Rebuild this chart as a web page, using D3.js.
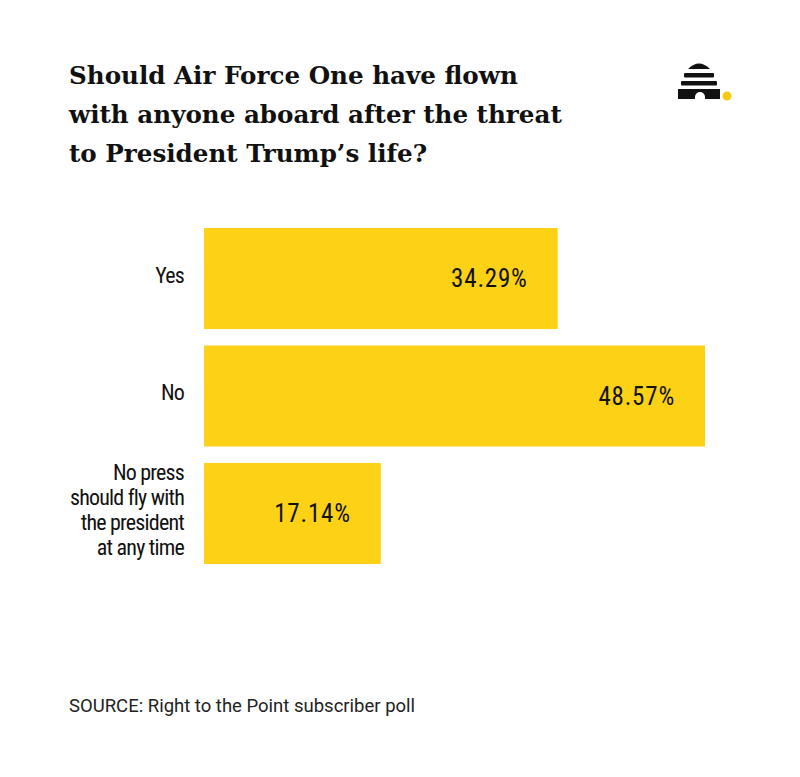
<!DOCTYPE html>
<html>
<head>
<meta charset="utf-8">
<script src="https://cdn.jsdelivr.net/npm/d3@7"></script>
<style>
    body { margin: 0; background: #fff; }
    .viewport { width: 800px; height: 777px; }
</style>
</head>
<body>
<div class="viewport"></div>
<script>
// chart data
var categories = ["Yes", "No", "No press should fly with the president at any time"];
var categoryLines = [["Yes"], ["No"], ["No press", "should fly with", "the president", "at any time"]];
var shares = [34.29, 48.57, 17.14];
var valueLabels = ["34.29%", "48.57%", "17.14%"];

var titleLines = [
    "Should Air Force One have flown",
    "with anyone aboard after the threat",
    "to President Trump\u2019s life?"
];
var sourceText = "SOURCE: Right to the Point subscriber poll";

function letsGo() {

    var width = 800,
        height = 777;

    var svg = d3.select(".viewport").append("svg")
        .attr("width", width)
        .attr("height", height);

    var condensed = "'Liberation Sans Narrow', 'Roboto Condensed', 'DejaVu Sans Condensed', Roboto, sans-serif";

    // title
    svg.append("g").selectAll("text")
        .data(titleLines)
        .enter().append("text")
        .attr("x", 69)
        .attr("y", function(d, i) { return 84 + i * 39; })
        .attr("font-family", "'DejaVu Serif', serif")
        .attr("font-weight", "bold")
        .attr("font-size", 24.6)
        .attr("fill", "#111")
        .text(function(d) { return d; });

    // logo (beehive + dot)
    var logo = svg.append("g").attr("fill", "#111");
    logo.append("path").attr("d", "M688,69 Q699,58 710,69 Z");
    logo.append("rect").attr("x", 684).attr("y", 73).attr("width", 30).attr("height", 4.5).attr("rx", 1);
    logo.append("rect").attr("x", 681).attr("y", 81).attr("width", 36).attr("height", 4.5).attr("rx", 1);
    logo.append("path").attr("d", "M678,89 H720 V99 H705 V97 A5,5 0 0 0 695,97 V99 H678 Z");
    svg.append("circle").attr("cx", 727).attr("cy", 96).attr("r", 4.5).attr("fill", "#f9c916");

    // scales
    var x = d3.scaleLinear()
        .domain([0, d3.max(shares)])
        .range([204, 705]);

    var y = d3.scaleBand()
        .domain(categories)
        .range([228, 564])
        .paddingInner(0.14)
        .paddingOuter(0);

    var rows = svg.append("g").selectAll("g")
        .data(categories)
        .enter().append("g");

    rows.append("rect")
        .attr("x", x(0))
        .attr("y", function(d) { return y(d); })
        .attr("width", function(d, i) { return x(shares[i]) - x(0); })
        .attr("height", y.bandwidth())
        .attr("fill", "#fcd116");

    rows.append("text")
        .attr("x", function(d, i) { return x(shares[i]) - 30; })
        .attr("y", function(d) { return y(d) + y.bandwidth() / 2 + 8.5; })
        .attr("text-anchor", "end")
        .attr("font-family", condensed)
        .attr("font-size", 25)
        .attr("letter-spacing", 0.8)
        .attr("fill", "#111")
        .text(function(d, i) { return valueLabels[i]; });

    // category labels, right aligned left of the bars
    rows.each(function(d, i) {
        var lines = categoryLines[i],
            mid = y(d) + y.bandwidth() / 2;
        d3.select(this).selectAll("text.cat")
            .data(lines)
            .enter().append("text")
            .attr("class", "cat")
            .attr("x", 184)
            .attr("y", function(l, j) { return mid + (j - (lines.length - 1) / 2) * 25 + 4; })
            .attr("text-anchor", "end")
            .attr("font-family", condensed)
            .attr("font-size", 22)
            .attr("letter-spacing", -0.8)
            .attr("fill", "#111")
            .text(function(l) { return l; });
    });

    // source
    svg.append("text")
        .attr("x", 69)
        .attr("y", 712)
        .attr("font-family", "Roboto, sans-serif")
        .attr("font-size", 18.5)
        .attr("fill", "#222")
        .text(sourceText);
}

letsGo();
</script>
</body>
</html>
